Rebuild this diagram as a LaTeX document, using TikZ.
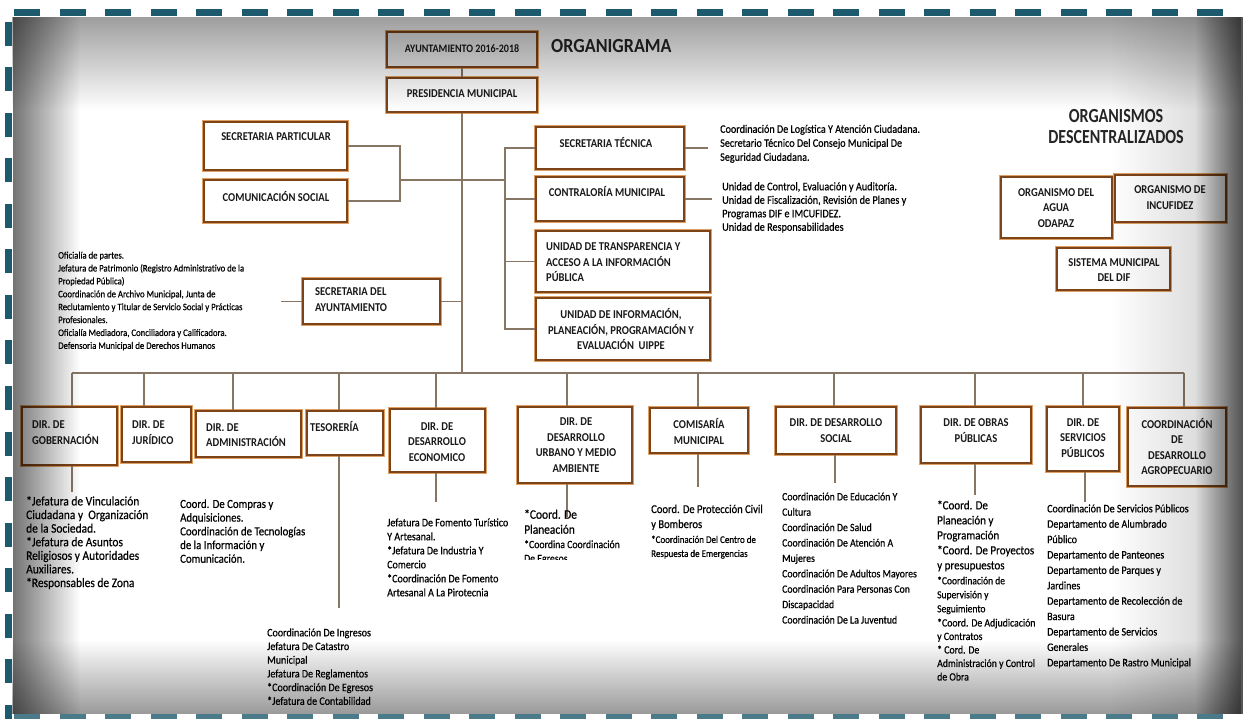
\documentclass[tikz,border=0pt]{standalone}
\usepackage{fontspec}
\setmainfont{Carlito}[FakeStretch=0.88, UprightFeatures={FakeBold=0.5}]
\newfontfamily\headfont{Carlito}[FakeStretch=0.9]
\newfontfamily\sidefont{Carlito}[FakeStretch=0.8]
\usetikzlibrary{fadings}
\definecolor{boxbrown}{RGB}{125,68,26}
\definecolor{boxglow}{RGB}{222,160,100}
\definecolor{linkgray}{RGB}{135,118,100}
\definecolor{dashteal}{RGB}{30,90,110}
\newcommand\setfs[2]{\fontsize{#1}{#2}\selectfont}
\tikzfading[name=faderight, left color=transparent!0, right color=transparent!100]
\tikzfading[name=fadeleft, left color=transparent!100, right color=transparent!0]
\tikzfading[name=fadedown, top color=transparent!0, bottom color=transparent!100]
\tikzfading[name=fadeup, top color=transparent!100, bottom color=transparent!0]

\begin{document}
\begin{tikzpicture}[x=1pt, y=-1pt,
  orgbox/.style={draw=boxbrown, line width=2.3pt, fill=white, inner sep=0pt,
    preaction={draw=boxglow, line width=4.4pt}},
  boxtext/.style={font=\bfseries\setfs{12}{15.5}, align=center, inner sep=0pt, text=black!90},
  boxtextl/.style={boxtext, align=left, anchor=west},
  lst/.style={align=left, inner sep=0pt, anchor=north west, text=black},
  link/.style={draw=linkgray, line width=1.5pt}]
\useasboundingbox (0,0) rectangle (1243,719);
\fill[white] (0,0) rectangle (1243,719);

% dashed frame
\foreach \i in {0,...,26} {\fill[dashteal] ({14+45.5*\i},9) rectangle ++(26,7);}
\foreach \i in {0,...,15} {\fill[dashteal] (5,{22+45.5*\i}) rectangle ++(7,24);}
\foreach \i in {0,...,26} {\fill[dashteal!80] ({14+45.5*\i},714) rectangle ++(26,6);}

% ---------- boxes ----------
\node[orgbox, fill=black!8, minimum width=150pt, minimum height=35pt] (ayto) at (462,49.5) {};
\node[orgbox, minimum width=150pt, minimum height=34pt] (pres) at (462,95) {};
\node[orgbox, minimum width=143pt, minimum height=48pt] (sp) at (275.5,146) {};
\node[orgbox, minimum width=143pt, minimum height=42pt] (cs) at (275.5,201) {};
\node[orgbox, minimum width=148pt, minimum height=42pt] (st) at (610,148) {};
\node[orgbox, minimum width=148pt, minimum height=44pt] (cm) at (610,199) {};
\node[orgbox, minimum width=174pt, minimum height=61pt] (ut) at (623,261.5) {};
\node[orgbox, minimum width=174pt, minimum height=62pt] (ui) at (623,329) {};
\node[orgbox, minimum width=137pt, minimum height=45pt] (sa) at (371.5,301.5) {};
\node[orgbox, minimum width=111pt, minimum height=61pt] (oa) at (1056.5,207.5) {};
\node[orgbox, minimum width=111pt, minimum height=47pt] (oi) at (1170.5,198.5) {};
\node[orgbox, minimum width=113pt, minimum height=42pt] (dif) at (1113.5,269) {};

\node[orgbox, minimum width=95pt, minimum height=58pt] (gob) at (69.5,436) {};
\node[orgbox, minimum width=69pt, minimum height=55pt] (jur) at (156.5,434.5) {};
\node[orgbox, minimum width=105pt, minimum height=46pt] (adm) at (248.5,434) {};
\node[orgbox, minimum width=76pt, minimum height=44pt] (tes) at (345,433) {};
\node[orgbox, minimum width=95pt, minimum height=63pt] (de) at (437.5,440.5) {};
\node[orgbox, minimum width=114pt, minimum height=76pt] (du) at (575,445) {};
\node[orgbox, minimum width=98pt, minimum height=45pt] (com) at (699,430.5) {};
\node[orgbox, minimum width=120pt, minimum height=47pt] (ds) at (836,430.5) {};
\node[orgbox, minimum width=110pt, minimum height=56pt] (op) at (976,435) {};
\node[orgbox, minimum width=72pt, minimum height=64pt] (spub) at (1083,439) {};
\node[orgbox, minimum width=98pt, minimum height=78pt] (cda) at (1177,447) {};

% ---------- connectors ----------
\coordinate (trunk) at (462,373);
\draw[link] (ayto.south) -- (pres.north);
\draw[link] (pres.south) -- (trunk);

\coordinate (lbTop) at (400,146);
\coordinate (lbBot) at (400,201);
\coordinate (lbMid) at (400,180);
\coordinate (rbMid) at (505,180);
\coordinate (rbTop) at (505,148);
\coordinate (rbBot) at (505,329);
\draw[link] (sp.east) -- (lbTop) -- (lbBot) -- (cs.east);
\draw[link] (lbMid) -- (rbMid);
\draw[link] (st.west) -- (rbTop) -- (rbBot) -- (ui.west);
\draw[link] (cm.west -| rbTop) -- (cm.west);
\draw[link] (ut.west -| rbTop) -- (ut.west);

\draw[link] (sa.east) -- (sa.east -| trunk);
\coordinate (saL) at (281,301.5);
\draw[link] (saL) -- (sa.west);
\coordinate (stR) at (708,148);
\draw[link] (st.east) -- (stR);
\coordinate (cmR) at (712,199);
\draw[link] (cm.east) -- (cmR);

\foreach \n/\x in {gob/72, jur/144, adm/233, tes/339, de/436, du/567, com/698, ds/834, op/975, spub/1083, cda/1184}
  {\coordinate (d\n) at (\x,373); \draw[link] (d\n) -- (d\n |- \n.north);}
\draw[link] (dgob) -- (dcda);

\foreach \n/\x/\y in {gob/72/492, de/436/502, du/567/517, com/698/487, ds/835/483, op/975/495, spub/1085/502, tes/339/608}
  {\coordinate (e\n) at (\x,\y); \draw[link] (e\n |- \n.south) -- (e\n);}

% ---------- titles ----------
\node[font=\headfont\bfseries\setfs{20}{22}, anchor=west, inner sep=0pt, text=black!85] (title) at (551,46.5) {ORGANIGRAMA};
\node[font=\sidefont\bfseries\setfs{20}{21.5}, align=center, inner sep=0pt, text=black!85] (orgt) at (1116,126.5) {ORGANISMOS\\DESCENTRALIZADOS};

% ---------- box labels ----------
\node[boxtext, font=\bfseries\setfs{11.4}{15}] (aytoT) at (462,49) {AYUNTAMIENTO 2016-2018};
\node[boxtext] (presT) at (462,94) {PRESIDENCIA MUNICIPAL};
\node[boxtext] (spT) at (276,137) {SECRETARIA PARTICULAR};
\node[boxtext] (csT) at (276,197) {COMUNICACIÓN SOCIAL};
\node[boxtext] (stT) at (606,143) {SECRETARIA TÉCNICA};
\node[boxtext] (cmT) at (607,192) {CONTRALORÍA MUNICIPAL};
\node[boxtextl] (utT) at (546,262.5) {UNIDAD DE TRANSPARENCIA Y\\ACCESO A LA INFORMACIÓN\\PÚBLICA};
\node[boxtext] (uiT) at (621,329.5) {UNIDAD DE INFORMACIÓN,\\PLANEACIÓN, PROGRAMACIÓN Y\\EVALUACIÓN\ \ UIPPE};
\node[boxtextl] (saT) at (315,299.5) {SECRETARIA DEL\\AYUNTAMIENTO};
\node[boxtext] (oaT) at (1056,208) {ORGANISMO DEL\\AGUA\\ODAPAZ};
\node[boxtext] (oiT) at (1170,197.5) {ORGANISMO DE\\INCUFIDEZ};
\node[boxtext] (difT) at (1114,270) {SISTEMA MUNICIPAL\\DEL DIF};

\node[boxtextl] (gobT) at (32,432.5) {DIR. DE\\GOBERNACIÓN};
\node[boxtextl] (jurT) at (132,432.5) {DIR. DE\\JURÍDICO};
\node[boxtextl] (admT) at (206,435) {DIR. DE\\ADMINISTRACIÓN};
\node[boxtextl] (tesT) at (310,427) {TESORERÍA};
\node[boxtext] (deT) at (437,442) {DIR. DE\\DESARROLLO\\ECONOMICO};
\node[boxtext] (duT) at (576,445) {DIR. DE\\DESARROLLO\\URBANO Y MEDIO\\AMBIENTE};
\node[boxtext] (comT) at (699,431.5) {COMISARÍA\\MUNICIPAL};
\node[boxtext] (dsT) at (836,430.5) {DIR. DE DESARROLLO\\SOCIAL};
\node[boxtext] (opT) at (976,430.5) {DIR. DE OBRAS\\PÚBLICAS};
\node[boxtext] (spubT) at (1083,438) {DIR. DE\\SERVICIOS\\PÚBLICOS};
\node[boxtext] (cdaT) at (1177,446.5) {COORDINACIÓN\\DE\\DESARROLLO\\AGROPECUARIO};

% ---------- lists ----------
\node[lst, font=\setfs{9.9}{12.9}] (saL1) at (58,251.5) {Oficialía de partes.\\Jefatura de Patrimonio (Registro Administrativo de la\\Propiedad Pública)\\Coordinación de Archivo Municipal, Junta de\\Reclutamiento y Titular de Servicio Social y Prácticas\\Profesionales.\\Oficialía Mediadora, Conciliadora y Calificadora.\\Defensoria Municipal de Derechos Humanos};
\node[lst, font=\setfs{11.5}{14}] (stL) at (720,124.6) {Coordinación De Logística Y Atención Ciudadana.\\Secretario Técnico Del Consejo Municipal De\\Seguridad Ciudadana.};
\node[lst, font=\setfs{11.6}{13.5}] (cmL) at (722,182) {Unidad de Control, Evaluación y Auditoría.\\Unidad de Fiscalización, Revisión de Planes y\\Programas DIF e IMCUFIDEZ.\\Unidad de Responsabilidades};

\node[lst, font=\setfs{13}{13.6}] (gobL) at (26,496) {*Jefatura de Vinculación\\Ciudadana y\ \ Organización\\de la Sociedad.\\*Jefatura de Asuntos\\Religiosos y Autoridades\\Auxiliares.\\*Responsables de Zona};
\node[lst, font=\setfs{12.3}{13.7}] (admL) at (180,499.2) {Coord. De Compras y\\Adquisiciones.\\Coordinación de Tecnologías\\de la Información y\\Comunicación.};
\node[lst, font=\setfs{11.4}{13.7}] (tesL) at (267,628.2) {Coordinación De Ingresos\\Jefatura De Catastro\\Municipal\\Jefatura De Reglamentos\\*Coordinación De Egresos\\*Jefatura de Contabilidad};
\node[lst, font=\setfs{11.4}{14}] (deL) at (387,518.2) {Jefatura De Fomento Turístico\\Y Artesanal.\\*Jefatura De Industria Y\\Comercio\\*Coordinación De Fomento\\Artesanal A La Pirotecnia};

\node[lst, font=\setfs{13}{15}] (duLa) at (524,509.3) {*Coord. De\\Planeación};
\node[lst, font=\setfs{12}{15}] (comLa) at (651,504.5) {Coord. De Protección Civil\\y Bomberos};
\begin{scope}
  \clip (500,530) rectangle (800,559);
  \node[lst, font=\setfs{11.1}{14}] (duLb) at (524,540) {*Coordina Coordinación\\De Egresos};
  \node[lst, font=\setfs{10.2}{14}] (comLb) at (651,535.5) {*Coordinación Del Centro de\\Respuesta de Emergencias};
\end{scope}

\node[lst, font=\setfs{11.1}{15.4}] (dsL) at (782,492.4) {Coordinación De Educación Y\\Cultura\\Coordinación De Salud\\Coordinación De Atención A\\Mujeres\\Coordinación De Adultos Mayores\\Coordinación Para Personas Con\\Discapacidad\\Coordinación De La Juventud};
\node[lst, font=\setfs{12.5}{15}] (opLa) at (937,500.3) {*Coord. De\\Planeación y\\Programación\\*Coord. De Proyectos\\y presupuestos};
\node[lst, font=\setfs{10.8}{14}] (opLb) at (937,576.4) {*Coordinación de\\Supervisión y\\Seguimiento};
\node[lst, font=\setfs{11.1}{13.5}] (opLc) at (937,618.4) {*Coord. De Adjudicación\\y Contratos\\* Cord. De\\Administración y Control\\de Obra};
\node[lst, font=\setfs{11.4}{15.4}] (spubL) at (1047,504.2) {Coordinación De Servicios Públicos\\Departamento de Alumbrado\\Público\\Departamento de Panteones\\Departamento de Parques y\\Jardines\\Departamento de Recolección de\\Basura\\Departamento de Servicios\\Generales\\Departamento De Rastro Municipal};

% ---------- vignette over the panel ----------
\fill[black, opacity=0.38, path fading=fadedown] (13,17) rectangle (1243,110);
\fill[black, opacity=0.55, path fading=faderight] (13,17) rectangle (80,714);
\fill[black, opacity=0.2, path fading=fadeleft] (1110,17) rectangle (1243,714);
\fill[black, opacity=0.6, path fading=fadeleft] (1195,17) rectangle (1243,714);
\fill[black, opacity=0.4, path fading=fadeup] (13,640) rectangle (1243,714);
\end{tikzpicture}
\end{document}
